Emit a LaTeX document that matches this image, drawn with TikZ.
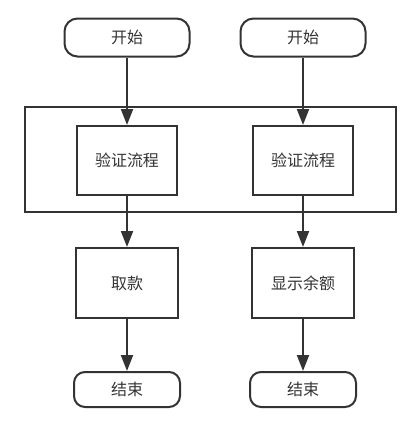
\documentclass[tikz,border=0pt]{standalone}
\usepackage{fontspec}
\setmainfont{Noto Sans CJK SC}
\usetikzlibrary{arrows.meta}
\definecolor{ln}{HTML}{333333}
\begin{document}
\begin{tikzpicture}[x=1pt,y=-1pt,
  every node/.style={font=\fontsize{16}{19}\selectfont, text=ln},
  term/.style={draw=ln, line width=2pt, rounded corners=13pt, minimum width=125pt, minimum height=38pt, inner sep=0pt},
  proc/.style={draw=ln, line width=2pt, minimum width=100pt, minimum height=69pt, inner sep=0pt},
  arr/.style={draw=ln, line width=2pt, -{Triangle[length=16pt,width=12pt]}}]
\useasboundingbox (0,0) rectangle (415,429);
\node[term] (s1) at (127,37.5) {开始};
\node[term] (s2) at (303,37.5) {开始};
\node[draw=ln, line width=2pt, minimum width=371pt, minimum height=105pt, inner sep=0pt] (grp) at (210.5,159.5) {};
\node[proc] (v1) at (127,160.5) {验证流程};
\node[proc] (v2) at (303,160.5) {验证流程};
\node[proc, minimum width=102pt, minimum height=70pt] (w) at (127,283) {取款};
\node[proc, minimum width=102pt, minimum height=70pt] (b) at (303,283) {显示余额};
\node[term, minimum width=106pt, minimum height=35pt, rounded corners=11pt] (e1) at (127,389.5) {结束};
\node[term, minimum width=106pt, minimum height=35pt, rounded corners=11pt] (e2) at (303,389.5) {结束};
\draw[arr] (s1.south) -- (v1.north);
\draw[arr] (s2.south) -- (v2.north);
\draw[arr] (v1.south) -- (w.north);
\draw[arr] (v2.south) -- (b.north);
\draw[arr] (w.south) -- (e1.north);
\draw[arr] (b.south) -- (e2.north);
\end{tikzpicture}
\end{document}
